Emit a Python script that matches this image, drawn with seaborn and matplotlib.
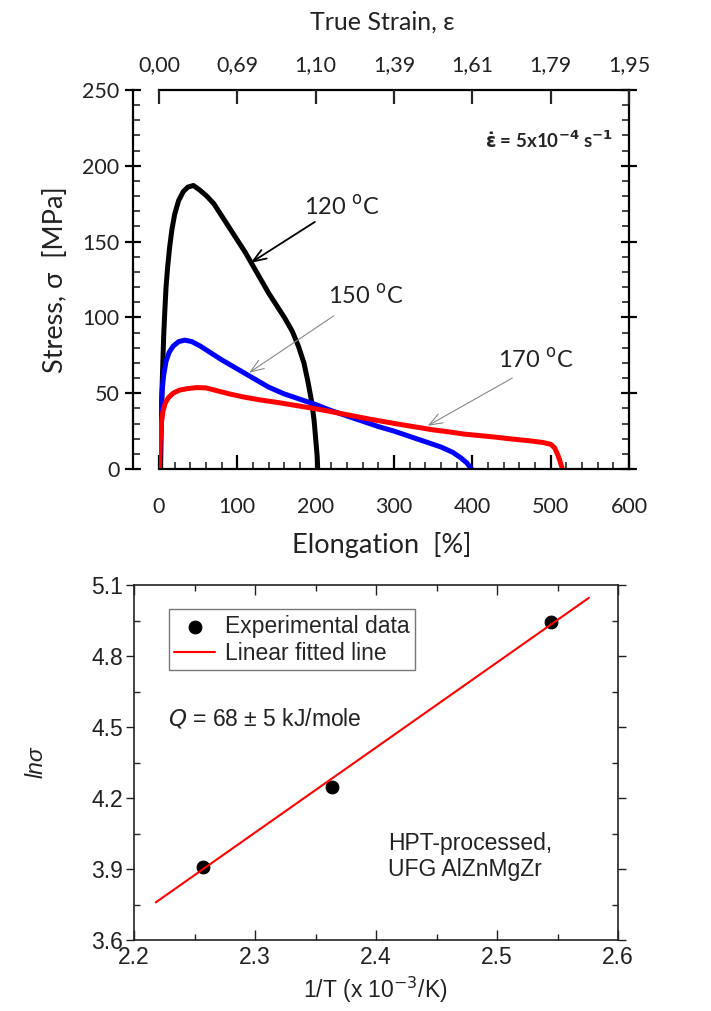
import numpy as np
import pandas as pd
import matplotlib
matplotlib.use("Agg")
import matplotlib.pyplot as plt
from matplotlib.ticker import MultipleLocator, FormatStrFormatter
import seaborn as sns

# ---------------- data ----------------
e120 = [2, 2.5, 3.2, 4, 5, 6, 7.5, 9, 11, 13.5, 16.5, 20, 25, 31, 37, 44, 52, 61, 70, 80,
        90, 100, 110, 120, 130, 140, 150, 160, 170, 178, 185, 190, 195, 198, 200, 202, 202.6]
s120 = [0, 15, 35, 55, 72, 88, 105, 120, 133, 146, 158, 168, 177, 183, 186, 187, 184, 180, 175, 167,
        159, 151, 143, 134, 125, 116, 108, 100, 91, 81, 70, 58, 44, 32, 20, 8, 0]

e150 = [0.5, 1.5, 2.5, 4, 6, 9, 13, 18, 25, 33, 42, 53, 65, 80, 100, 120, 140, 160, 180,
        200, 220, 240, 260, 280, 300, 320, 340, 360, 375, 385, 393, 399]
s150 = [0, 20, 38, 52, 62, 71, 77, 81, 84, 85, 84, 81, 77, 72, 66, 60, 54, 49.5, 46,
        42.5, 38.5, 35, 31.5, 28, 25, 21.5, 18, 14.5, 11, 7.5, 4, 0]

e170 = [0.5, 1.5, 3, 5, 8, 12, 18, 26, 36, 48, 60, 75, 90, 110, 130, 150, 170, 190, 210, 230,
        250, 270, 290, 310, 330, 350, 370, 390, 410, 430, 450, 470, 490, 500, 505, 509, 512, 515]
s170 = [0, 18, 30, 38, 43.5, 47, 50, 52, 53, 53.7, 53.5, 51.5, 49.5, 47.3, 45.5, 44, 42.3, 40.6, 38.8, 36.8,
        34.8, 32.8, 31, 29.2, 27.5, 25.8, 24.5, 23, 22, 21, 19.8, 18.8, 17.5, 16.3, 14, 9.5, 5, 0]

elong_ticks = [0, 100, 200, 300, 400, 500, 600]
strain_labels = ["0,00", "0,69", "1,10", "1,39", "1,61", "1,79", "1,95"]

inv_T = [2.257, 2.364, 2.545]
ln_sigma = [3.910, 4.245, 4.943]
fit_x = [2.218, 2.576]
fit_y = [3.759, 5.046]

# ---------------- style ----------------
sns.set_theme(style="ticks")
plt.rcParams["font.family"] = ["Lato", "DejaVu Sans"]
plt.rcParams["mathtext.fontset"] = "dejavusans"

fig = plt.figure(figsize=(7.11, 10.11), dpi=100)
TF = ["Lato", "DejaVu Sans"]
AF = ["Liberation Sans", "DejaVu Sans"]
TXT = "#222222"

# ================= top plot =================
ax = fig.add_axes([159/711, 1-469/1011, 470/711, 379/1011])
curves = [(e120, s120, "black"), (e150, s150, "#0000ff"), (e170, s170, "#ff0000")]
for e, s, c in curves:
    df = pd.DataFrame({"e": e, "s": s})
    sns.lineplot(data=df, x="e", y="s", ax=ax, color=c, lw=3.6, sort=False,
                 estimator=None, solid_capstyle="round", solid_joinstyle="round")
ax.set_xlim(0, 600)
ax.set_ylim(0, 250)
ax.set_xticks(elong_ticks)
ax.xaxis.set_minor_locator(MultipleLocator(20))
ax.yaxis.set_major_locator(MultipleLocator(50))
ax.yaxis.set_minor_locator(MultipleLocator(10))
for sp in ax.spines.values():
    sp.set_linewidth(1.6)
    sp.set_color("black")
ax.spines["left"].set_position(("outward", 19))
ax.tick_params(axis="x", which="major", direction="in", length=10, width=1.6,
               top=False, labelsize=15.5, pad=20, colors="black", labelcolor=TXT)
ax.tick_params(axis="x", which="minor", direction="in", length=5, width=1.2, top=False)
ax.tick_params(axis="y", which="major", direction="inout", length=12, width=1.6,
               right=True, labelsize=15.5, colors="black", labelcolor=TXT)
ax.tick_params(axis="y", which="minor", direction="in", length=5, width=1.2, right=True)
for lab in ax.get_xticklabels() + ax.get_yticklabels():
    lab.set_family(TF)
ax.set_xlabel("Elongation  [%]", fontsize=19.5, family=TF, color=TXT)
ax.set_ylabel("Stress, σ  [MPa]", fontsize=19.5, family=TF, color=TXT)
ax.xaxis.set_label_coords(0.474, -0.166)
ax.yaxis.set_label_coords(-0.194, 0.5)

ax2 = ax.twiny()
ax2.set_xlim(0, 600)
ax2.set_xticks(elong_ticks)
ax2.set_xticklabels(strain_labels, family=TF)
ax2.tick_params(axis="x", direction="in", length=10, width=1.6, labelsize=15.5, pad=11,
                labelcolor=TXT)
for sp in ax2.spines.values():
    sp.set_visible(False)
ax2.set_xlabel("True Strain, ε", fontsize=18, family=TF, color=TXT)
ax2.xaxis.set_label_coords(0.474, 1.16)

ax.text(580, 217, r"$\mathbf{\dot{\varepsilon}}$ = 5x10$^{\mathbf{-4}}$ s$^{\mathbf{-1}}$",
        ha="right", va="center", fontsize=13.5, fontweight="bold", family=TF)

ann = [("120 $^{\\mathrm{o}}$C", (233, 173), (199, 163), (117, 136), "black", 1.3),
       ("150 $^{\\mathrm{o}}$C", (264, 114), (223, 101), (115, 63.5), "#888888", 0.8),
       ("170 $^{\\mathrm{o}}$C", (481, 72), (451, 60), (343, 28.5), "#888888", 0.8)]
for txt, tp, a0, a1, col, lw in ann:
    ax.text(tp[0], tp[1], txt, ha="center", va="center", fontsize=17, family=TF, color=TXT)
    ax.annotate("", xy=a1, xytext=a0,
                arrowprops=dict(arrowstyle="->,head_length=0.8,head_width=0.3",
                                color=col, lw=lw, shrinkA=0, shrinkB=0))

# ================= bottom plot =================
bx = fig.add_axes([134/711, 1-940/1011, 484/711, 355/1011])
pts = pd.DataFrame({"x": inv_T, "y": ln_sigma})
fit = pd.DataFrame({"x": fit_x, "y": fit_y})
sns.scatterplot(data=pts, x="x", y="y", ax=bx, color="black", s=85, edgecolor="black",
                label="Experimental data", zorder=3)
sns.lineplot(data=fit, x="x", y="y", ax=bx, color="#ff0000", lw=1.5,
             label="Linear fitted line", zorder=4)
bx.set_xlim(2.2, 2.6)
bx.set_ylim(3.6, 5.1)
bx.xaxis.set_major_locator(MultipleLocator(0.1))
bx.xaxis.set_minor_locator(MultipleLocator(0.05))
bx.yaxis.set_major_locator(MultipleLocator(0.3))
bx.yaxis.set_minor_locator(MultipleLocator(0.15))
bx.xaxis.set_major_formatter(FormatStrFormatter("%.1f"))
bx.yaxis.set_major_formatter(FormatStrFormatter("%.1f"))
for sp in bx.spines.values():
    sp.set_linewidth(1.2)
    sp.set_color(TXT)
bx.tick_params(axis="x", which="both", direction="in", top=True, width=1.0,
               labelsize=16.5, pad=4, colors=TXT)
bx.tick_params(axis="x", which="major", length=7)
bx.tick_params(axis="x", which="minor", length=4)
bx.tick_params(axis="y", which="major", direction="out", length=6, width=1.0,
               labelsize=16.5, pad=2, colors=TXT)
bx.tick_params(axis="y", which="minor", direction="in", length=4, width=1.0)
bx.tick_params(axis="y", which="both", right=True)
for lab in bx.get_xticklabels() + bx.get_yticklabels():
    lab.set_family(AF)
bx.set_xlabel("1/T (x 10$^{-3}$/K)", fontsize=16.5, family=AF, color=TXT)
bx.set_ylabel("lnσ", fontsize=16.5, family=AF, style="italic", color=TXT)
bx.xaxis.set_label_coords(0.498, -0.097)
bx.yaxis.set_label_coords(-0.178, 0.5)

leg = bx.legend(loc="upper left", bbox_to_anchor=(0.0713, 0.931), borderaxespad=0,
                fancybox=False, frameon=True, prop={"family": AF, "size": 16.5},
                handlelength=1.8, handletextpad=0.4, borderpad=0.25, labelspacing=0.15,
                markerscale=1.0)
leg.get_frame().set_edgecolor("#555555")
leg.get_frame().set_linewidth(1.0)

bx.text(2.228, 4.535, "$Q$ = 68 ± 5 kJ/mole", fontsize=16.5, family=AF, va="center", color=TXT)
bx.text(2.41, 3.953, "HPT-processed,\nUFG AlZnMgZr", fontsize=16.5, family=AF, va="center",
        linespacing=1.2, color=TXT)

fig.savefig("out.png", dpi=100, facecolor="white")
